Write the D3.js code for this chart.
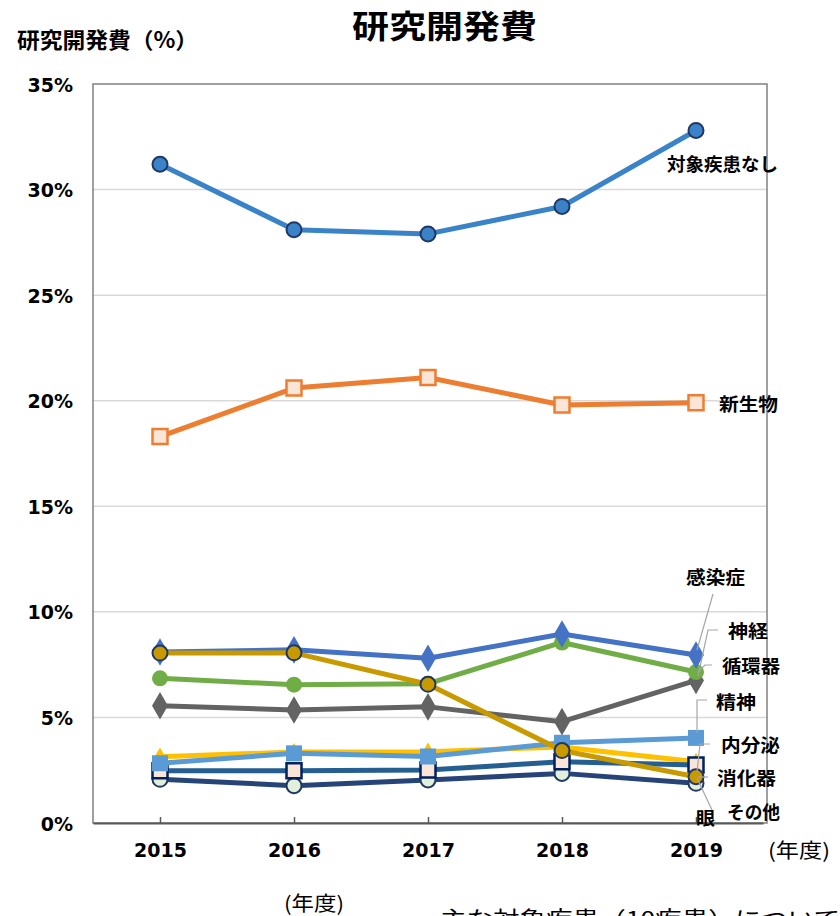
<!DOCTYPE html>
<html>
<head>
<meta charset="utf-8">
<script src="https://cdn.jsdelivr.net/npm/d3@7"></script>
<style>
  body { margin: 0; background: #fff; }
  svg { display: block; }
</style>
</head>
<body>
<svg id="chart" width="840" height="916"></svg>
<script>
// Fiscal years on the x axis
const years = ["2015", "2016", "2017", "2018", "2019"];
const yTicks = [0, 0.05, 0.10, 0.15, 0.20, 0.25, 0.30, 0.35];

// R&D spending share by target disease area (%)
const noTarget    = [31.2, 28.1, 27.9, 29.2, 32.8];
const neoplasm    = [18.3, 20.6, 21.1, 19.8, 19.9];
const infection   = [8.1, 8.2, 7.8, 8.95, 7.96];
const cardio      = [6.85, 6.55, 6.6, 8.55, 7.15];
const nerve       = [5.55, 5.35, 5.5, 4.8, 6.75];
const digestive   = [8.05, 8.06, 6.57, 3.43, 2.19];
const endocrineY  = [3.14, 3.36, 3.38, 3.6, 2.9];
const psychiatric = [2.83, 3.3, 3.15, 3.8, 4.03];
const other       = [2.48, 2.48, 2.51, 2.9, 2.75];
const eye         = [2.07, 1.77, 2.04, 2.35, 1.88];

// Series styling (drawn order: back to front)
const series = [
  { name: "内分泌", values: endocrineY, color: "#FFC000", marker: "triangle", fill: "#FFC000", stroke: "none", r: 7 },
  { name: "眼", values: eye, color: "#264478", marker: "circle", fill: "#E2EFDA", stroke: "#1F3864", r: 7.5 },
  { name: "その他", values: other, color: "#255E91", marker: "square", fill: "#FBE5D6", stroke: "#002060", r: 7.5 },
  { name: "精神", values: psychiatric, color: "#5B9BD5", marker: "square", fill: "#5B9BD5", stroke: "none", r: 8 },
  { name: "神経", values: nerve, color: "#636363", marker: "diamond", fill: "#636363", stroke: "none", r: 10 },
  { name: "循環器", values: cardio, color: "#70AD47", marker: "circle", fill: "#70AD47", stroke: "none", r: 8 },
  { name: "感染症", values: infection, color: "#4472C4", marker: "diamond", fill: "#4472C4", stroke: "none", r: 10 },
  { name: "消化器", values: digestive, color: "#C99A00", marker: "circle", fill: "#C99A00", stroke: "#1F3864", r: 7.5 },
  { name: "新生物", values: neoplasm, color: "#ED7D31", marker: "square", fill: "#FBE5D6", stroke: "#ED7D31", r: 7.5 },
  { name: "対象疾患なし", values: noTarget, color: "#3A83C8", marker: "circle", fill: "#3A83C8", stroke: "#1F3864", r: 7.5 }
];

// Label placement for the series names at the right edge
const labelLayout = [
  { name: "対象疾患なし", x: 667, y: 171, w: 111, leader: null },
  { name: "新生物", x: 719, y: 411, w: 59, leader: null },
  { name: "感染症", x: 686, y: 584, w: 59, leader: [[713, 594], [697, 650]] },
  { name: "神経", x: 728, y: 638, w: 40, leader: [[718, 630], [708, 630], [698, 676]] },
  { name: "循環器", x: 722, y: 673, w: 58, leader: [[712, 665], [705, 665], [698, 672]] },
  { name: "精神", x: 716, y: 709, w: 40, leader: [[707, 700], [697, 700], [697, 733]] },
  { name: "内分泌", x: 721, y: 752, w: 59, leader: [[710, 744], [700, 744], [697, 772]] },
  { name: "消化器", x: 717, y: 785, w: 59, leader: [[708, 777], [698, 777]] },
  { name: "その他", x: 727, y: 819, w: 53, leader: null },
  { name: "眼", x: 696, y: 825, w: 19, leader: [[712, 810], [697, 778]] }
];

const CJK = "'Noto Sans CJK JP', 'Noto Sans', sans-serif";
const NUM = "'DejaVu Sans', 'Noto Sans', sans-serif";

const svg = d3.select("#chart").attr("font-family", CJK);
const plot = { left: 93, right: 767, top: 84, bottom: 823 };

const x = d3.scalePoint().domain(years).range([plot.left, plot.right - 4]).padding(0.5);
const y = d3.scaleLinear().domain([0, 0.35]).range([plot.bottom, plot.top]);

// Gridlines
svg.append("g")
  .selectAll("line")
  .data(yTicks.filter(t => t > 0 && t < 0.35))
  .join("line")
  .attr("x1", plot.left).attr("x2", plot.right)
  .attr("y1", d => y(d)).attr("y2", d => y(d))
  .attr("stroke", "#D9D9D9").attr("stroke-width", 1.5);

// Plot frame
svg.append("rect")
  .attr("x", plot.left).attr("y", plot.top)
  .attr("width", plot.right - plot.left).attr("height", plot.bottom - plot.top)
  .attr("fill", "none").attr("stroke", "#808080").attr("stroke-width", 1.5);

// Y axis labels
const yAxis = d3.axisLeft(y).tickValues(yTicks).tickFormat(d3.format(".0%")).tickSize(0).tickPadding(20);
svg.append("g")
  .attr("transform", `translate(${plot.left},0)`)
  .call(yAxis)
  .call(g => g.select(".domain").remove())
  .call(g => g.selectAll("text")
    .attr("font-family", NUM)
    .attr("font-weight", "bold").attr("font-size", 19).attr("fill", "#000").attr("dy", "0.37em"));

// X axis with inside ticks
const xAxis = d3.axisBottom(x).tickSizeInner(-6).tickSizeOuter(0).tickPadding(21);
svg.append("g")
  .attr("transform", `translate(0,${plot.bottom})`)
  .call(xAxis)
  .call(g => g.select(".domain").attr("stroke", "#595959").attr("stroke-width", 2))
  .call(g => g.selectAll(".tick line").attr("stroke", "#595959").attr("stroke-width", 1.5))
  .call(g => g.selectAll("text")
    .attr("font-family", NUM)
    .attr("font-weight", "bold").attr("font-size", 19).attr("fill", "#000"));

// Lines and markers
const line = d3.line().x((d, i) => x(years[i])).y(d => y(d / 100));

const symbolFor = (m, r) => {
  if (m === "square") return d3.symbol().type(d3.symbolSquare).size((2 * r) * (2 * r))();
  if (m === "diamond") return d3.symbol().type(d3.symbolDiamond).size(r * r * 2.2)();
  if (m === "triangle") return d3.symbol().type(d3.symbolTriangle).size(r * r * 2.2)();
  return null;
};

series.forEach(s => {
  const g = svg.append("g");
  g.append("path")
    .datum(s.values)
    .attr("d", line)
    .attr("fill", "none")
    .attr("stroke", s.color)
    .attr("stroke-width", 5)
    .attr("stroke-linejoin", "round");
  const pts = g.selectAll(".pt").data(s.values).join("g")
    .attr("transform", (d, i) => `translate(${x(years[i])},${y(d / 100)})`);
  if (s.marker === "circle") {
    pts.append("circle").attr("r", s.r)
      .attr("fill", s.fill)
      .attr("stroke", s.stroke).attr("stroke-width", s.stroke === "none" ? 0 : 2);
  } else {
    pts.append("path").attr("d", symbolFor(s.marker, s.r))
      .attr("fill", s.fill)
      .attr("stroke", s.stroke).attr("stroke-width", s.stroke === "none" ? 0 : 2.5);
  }
});

// Leader lines and series names
const labels = svg.append("g");
labelLayout.forEach(l => {
  if (l.leader) {
    labels.append("path")
      .attr("d", d3.line()(l.leader))
      .attr("fill", "none").attr("stroke", "#A6A6A6").attr("stroke-width", 1.2);
  }
  labels.append("text")
    .attr("x", l.x).attr("y", l.y)
    .attr("font-weight", "bold").attr("font-size", 18).attr("fill", "#000")
    .attr("textLength", l.w).attr("lengthAdjust", "spacingAndGlyphs")
    .text(l.name);
});

// Titles
svg.append("text")
  .attr("x", 352).attr("y", 38)
  .attr("font-weight", "bold").attr("font-size", 32).attr("fill", "#000")
  .attr("textLength", 185).attr("lengthAdjust", "spacingAndGlyphs")
  .text("研究開発費");

svg.append("text")
  .attr("x", 17).attr("y", 48)
  .attr("font-weight", "bold").attr("font-size", 22).attr("fill", "#000")
  .attr("textLength", 181).attr("lengthAdjust", "spacingAndGlyphs")
  .text("研究開発費（%）");

// Axis unit notes
svg.append("text")
  .attr("x", 768).attr("y", 858)
  .attr("font-size", 20).attr("fill", "#000")
  .attr("textLength", 62).attr("lengthAdjust", "spacingAndGlyphs")
  .text("(年度)");

svg.append("text")
  .attr("x", 284).attr("y", 911)
  .attr("font-size", 20).attr("fill", "#000")
  .attr("textLength", 60).attr("lengthAdjust", "spacingAndGlyphs")
  .text("(年度)");

svg.append("text")
  .attr("x", 440).attr("y", 927)
  .attr("font-size", 22).attr("fill", "#000")
  .attr("textLength", 400).attr("lengthAdjust", "spacingAndGlyphs")
  .text("主な対象疾患（10疾患）について");
</script>
</body>
</html>
